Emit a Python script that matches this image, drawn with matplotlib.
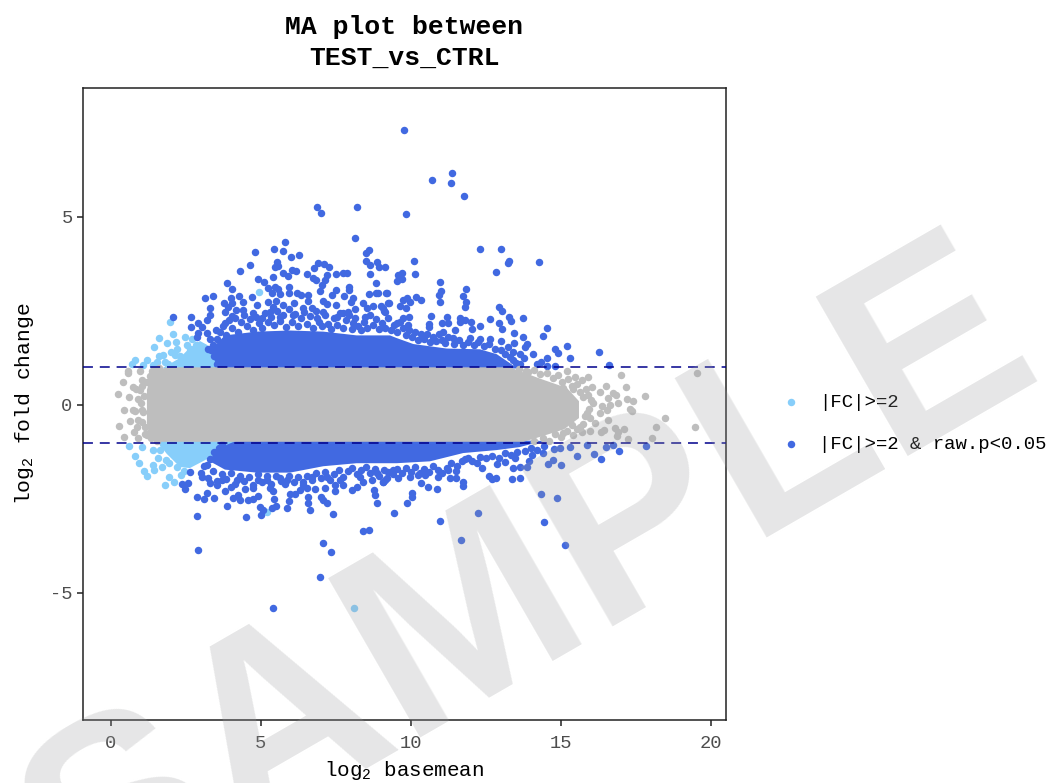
# MA plot, TEST vs CTRL. Sparse points read one by one, dense core kept as outlines
import matplotlib
matplotlib.use('Agg')
import matplotlib.pyplot as plt

MONO = 'Liberation Mono'
plt.rcParams.update({'font.family': MONO, 'mathtext.fontset': 'custom', 'axes.unicode_minus': False,
                     'mathtext.rm': 'Liberation Sans', 'mathtext.default': 'regular'})

GREY = '#BEBEBE'; LIGHT = '#87CEFA'; BLUE = '#4169E1'; NAVY = '#00008B'

# significant points, above the band
up_x = [8.13,5.81,5.42,4.81,5.74,6.01,6.26,8.61,8.49,8.50,8.63,8.86,8.93,9.13,4.64,5.52,5.47,5.58,4.30,6.89,
        6.77,7.11,7.27,6.02,6.17,5.74,5.89,6.54,7.49,7.74,7.88,7.21,8.63,4.91,6.72,6.83,7.12,5.41,3.88,5.10,
        8.82,7.04,4.04,5.93,5.24,5.47,5.58,6.97,7.94,7.94,7.50,5.36,5.63,5.94,6.19,6.32,7.38,8.59,8.82,8.91,
        9.18,4.27,3.13,3.39,4.70,6.58,7.78,4.01,8.08,4.02,3.77,4.40,5.22,5.50,6.10,6.58,7.08,7.19,7.49,7.99,
        8.39,9.24,4.87,3.30,3.89,4.17,4.41,5.39,5.74,6.41,6.69,8.14,8.74,8.52,9.00,9.10,3.80,4.74,5.30,7.08,
        7.74,7.91,2.08,2.68,3.30,3.19,4.02,5.02,5.63,6.08,6.86,7.54,8.47,3.79,2.91,2.67,3.02,3.50,3.19,2.91,
        2.86,8.08,12.31,12.99,13.28,13.23,14.28,10.11,9.69,9.58,10.13,12.82,9.52,9.69,10.96,11.84,11.00,10.94,9.19,11.72,
        10.17,10.35,9.88,9.72,9.97,10.97,11.83,9.28,9.63,9.82,11.80,12.92,13.05,9.06,9.13,10.67,9.94,9.75,11.21,11.65,
        13.28,13.74,12.62,13.33,9.52,10.61,11.05,11.22,11.63,11.80,11.99,12.94,12.30,12.05,9.91,13.02,14.55,11.47,10.61,11.08,
        13.45,14.39,13.73,12.63,12.30,11.97,11.39,12.99,13.43,13.86,13.80,15.20,14.80,14.89,16.28,14.07,13.65,13.24,13.41,13.78,
        14.53,15.31,13.41,14.19,14.32,14.52,14.80,16.59,13.63,9.77,10.70,11.37,11.33,11.77,9.83,6.87,7.00,8.20,
        # clumps on top of the solid part
        3.55,3.65,3.75,3.85,3.95,3.40,3.30,3.25,4.05,4.15,4.25,4.35,4.45,4.55,4.65,4.75,4.85,4.95,
        5.05,5.15,5.25,5.35,5.45,5.55,5.65,5.75,5.85,5.95,6.05,6.15,6.25,6.35,6.45,6.55,6.65,6.75,6.85,6.95,
        7.05,7.15,7.25,7.35,7.45,7.55,7.65,7.75,7.85,7.95,8.05,8.15,8.25,8.35,8.45,8.55,8.65,8.75,8.85,8.95,
        9.05,9.15,9.25,9.35,9.45,9.55,9.65,9.75,9.85,9.95,10.05,10.15,10.25,10.35,10.45,10.55,10.65,10.75,10.85,10.95,
        11.05,11.15,11.25,11.45,11.60,11.75,11.90,12.10,12.25,12.45,12.60,12.80,13.00,13.15,13.30,13.50,
        3.32,3.45,3.55,3.47,3.70]
up_y = [4.43,4.34,4.16,4.08,4.09,3.94,3.98,4.12,4.03,3.84,3.72,3.79,3.66,3.68,3.73,3.79,3.68,3.70,3.55,3.77,
        3.63,3.75,3.68,3.59,3.57,3.50,3.43,3.47,3.48,3.50,3.50,3.46,3.48,3.36,3.37,3.31,3.32,3.39,3.25,3.28,
        3.24,3.19,3.09,3.15,3.10,3.15,3.08,3.04,3.13,3.06,3.06,2.99,2.95,2.97,2.99,2.93,2.93,2.95,2.99,2.97,
        2.97,2.91,2.85,2.91,2.86,2.92,2.90,2.84,2.84,2.72,2.72,2.73,2.75,2.77,2.70,2.77,2.77,2.69,2.66,2.75,
        2.72,2.70,2.67,2.59,2.60,2.53,2.53,2.60,2.66,2.59,2.57,2.56,2.63,2.57,2.62,2.50,2.48,2.44,2.48,2.46,
        2.44,2.46,2.34,2.33,2.38,2.26,2.37,2.30,2.35,2.39,2.30,2.33,2.33,2.17,2.17,2.06,2.08,1.99,1.92,1.91,
        1.82,2.19,4.15,4.14,3.83,3.77,3.79,3.84,3.52,3.46,3.49,3.53,3.30,3.34,3.26,3.08,3.02,2.93,2.98,2.89,
        2.88,2.80,2.85,2.79,2.75,2.75,2.75,2.70,2.62,2.59,2.60,2.61,2.50,2.57,2.48,2.37,2.35,2.30,2.35,2.30,
        2.33,2.32,2.28,2.23,2.19,2.15,2.17,2.17,2.21,2.26,2.21,2.19,2.10,2.03,2.13,2.02,2.05,1.99,2.07,1.95,
        1.92,1.83,1.82,1.76,1.76,1.77,1.77,1.69,1.66,1.62,1.53,1.57,1.49,1.38,1.42,1.36,1.36,1.53,1.42,1.24,
        1.24,1.24,1.20,1.10,1.13,1.04,1.04,1.05,1.10,7.31,5.98,6.17,5.90,5.56,5.08,5.27,5.11,5.27,
        1.75,1.95,2.10,1.85,2.25,1.60,1.75,1.50,2.05,2.30,1.95,2.20,2.40,2.10,2.28,1.98,2.35,2.18,
        2.05,2.45,2.20,2.35,2.12,2.50,2.22,2.40,2.08,2.55,2.20,2.42,2.10,2.30,2.48,2.15,2.36,2.05,2.50,2.20,
        2.10,2.38,2.15,2.02,2.30,2.12,2.45,2.05,2.25,2.40,2.02,2.30,2.10,1.98,2.20,2.05,2.38,2.12,2.28,2.02,
        2.18,2.05,2.30,1.98,2.12,1.95,2.20,2.05,1.85,2.00,1.82,1.95,1.72,1.88,1.75,1.90,1.68,1.82,1.70,1.88,
        1.72,1.65,1.80,1.62,1.72,1.60,1.68,1.60,1.68,1.58,1.62,1.50,1.45,1.35,1.28,1.12,
        1.45,1.30,1.10,1.55,1.20]

# significant points, below the band
down_x = [2.86,4.50,4.99,7.39,6.63,8.39,8.60,3.88,2.88,3.11,3.44,3.19,4.08,4.22,4.30,4.58,4.74,4.91,4.97,5.08,
          5.36,5.50,5.43,5.88,5.93,5.97,6.14,6.56,6.57,7.00,7.21,7.08,8.86,8.80,8.77,6.80,7.47,7.47,8.04,7.74,
          8.19,8.41,8.69,9.08,9.19,2.36,2.58,2.47,4.00,3.80,4.47,4.74,5.30,5.39,5.67,6.30,6.52,7.13,2.63,3.02,
          3.30,3.52,3.69,4.19,4.91,5.19,5.86,6.41,6.69,7.19,7.63,8.30,8.86,9.44,9.86,10.02,10.02,10.32,10.56,10.87,
          10.96,12.24,11.67,11.74,11.74,11.50,11.30,10.91,9.58,9.97,9.13,9.08,14.32,14.86,14.44,12.61,12.83,12.69,13.38,13.63,
          13.41,13.63,13.86,12.36,12.21,12.86,13.13,13.47,13.94,14.02,14.56,14.72,15.01,15.52,16.11,16.32,16.93,16.50,16.74,17.83,
          15.86,15.30,14.97,14.77,14.39,10.47,10.25,9.41,11.25,11.50,11.80,2.90,7.07,7.33,6.97,5.40,15.13,
          # clumps under the solid part
          3.00,3.10,3.25,3.40,3.55,3.70,3.85,4.00,4.15,4.30,4.45,4.60,4.75,4.90,5.05,5.20,5.35,5.50,5.65,5.80,
          5.95,6.10,6.25,6.40,6.55,6.70,6.85,7.00,7.15,7.30,7.45,7.60,7.75,7.90,8.05,8.20,8.35,8.50,8.65,8.80,
          8.95,9.10,9.25,9.40,9.55,9.70,9.85,10.00,10.15,10.30,10.45,10.60,10.75,10.90,11.05,11.20,11.35,11.55,11.70,11.90,
          12.05,12.30,12.50,12.70,12.95,13.15,13.35,13.55,13.80,14.00,14.20,14.45,
          3.30,3.45,3.60,3.70,3.20]
down_y = [-2.95,-2.97,-2.94,-2.91,-2.80,-3.36,-3.33,-2.69,-2.46,-2.49,-2.48,-2.33,-2.48,-2.39,-2.54,-2.54,-2.51,-2.42,-2.72,-2.79,
          -2.74,-2.69,-2.51,-2.75,-2.55,-2.37,-2.38,-2.61,-2.44,-2.46,-2.62,-2.54,-2.61,-2.39,-2.26,-2.23,-2.28,-2.13,-2.26,-2.13,
          -2.17,-2.04,-1.99,-2.04,-1.95,-2.10,-2.08,-2.24,-2.19,-2.30,-2.24,-2.22,-2.22,-2.30,-2.01,-2.26,-2.22,-2.22,-1.79,-1.91,
          -2.08,-2.13,-1.99,-1.99,-1.99,-1.99,-1.99,-2.04,-1.91,-1.91,-1.99,-1.91,-1.82,-2.87,-2.62,-2.33,-2.46,-2.08,-2.18,-2.23,
          -3.08,-2.88,-3.59,-2.04,-2.15,-1.95,-1.95,-1.92,-1.93,-1.92,-1.99,-2.04,-2.36,-2.48,-3.12,-1.89,-1.95,-1.98,-1.97,-1.95,
          -1.69,-1.64,-1.64,-1.69,-1.55,-1.57,-1.52,-1.42,-1.48,-1.33,-1.57,-1.46,-1.59,-1.37,-1.30,-1.44,-1.23,-1.11,-1.06,-1.10,
          -1.06,-1.13,-1.14,-1.18,-1.27,-1.87,-1.86,-1.73,-1.73,-1.77,-1.45,-3.86,-3.67,-3.91,-4.57,-5.40,-3.72,
          -1.80,-1.62,-1.95,-1.75,-2.02,-1.85,-1.98,-1.80,-2.10,-1.88,-2.02,-1.92,-2.12,-1.85,-2.05,-1.90,-2.10,-1.88,-1.95,-2.10,
          -1.90,-2.05,-1.92,-2.12,-1.88,-2.00,-1.80,-1.95,-1.78,-2.00,-1.85,-1.72,-1.92,-1.75,-1.68,-1.85,-1.72,-1.65,-1.80,-1.70,
          -1.88,-1.72,-1.78,-1.85,-1.70,-1.82,-1.68,-1.78,-1.65,-1.80,-1.70,-1.78,-1.62,-1.72,-1.80,-1.68,-1.55,-1.62,-1.50,-1.42,
          -1.50,-1.38,-1.42,-1.35,-1.40,-1.28,-1.32,-1.25,-1.22,-1.15,-1.20,-1.08,
          -1.45,-1.25,-1.15,-1.05,-1.60]

# fold change only
light_x = [1.97,4.94,2.07,1.60,1.44,1.87,2.17,2.47,1.61,1.74,0.80,0.69,1.19,1.08,1.39,2.13,2.52,2.63,2.30,1.80,
           0.61,0.80,0.94,1.10,1.19,1.39,1.44,1.69,1.92,1.80,2.10,2.32,1.02,1.41,1.56,1.83,2.21,2.43,5.19,7.39,8.10,
           1.55,1.90,2.00,2.20,2.40,2.75,2.85,2.70,3.00,3.40,1.65,1.95,2.05,2.50,1.75]
light_y = [2.21,3.00,1.88,1.77,1.53,1.64,1.68,1.80,1.29,1.33,1.20,1.09,1.20,1.06,1.06,1.33,1.60,1.50,1.29,1.15,
           -1.10,-1.37,-1.55,-1.75,-1.89,-1.60,-1.73,-1.64,-1.91,-2.14,-2.04,-1.86,-1.13,-1.20,-1.40,-1.46,-1.64,-1.75,-2.84,-1.31,-5.40,
           1.15,1.10,1.40,1.50,1.15,1.35,1.60,1.75,1.55,1.20,-1.20,-1.55,-1.25,-1.55,-1.05]

# not significant, the ones outside the solid band
grey_x = [0.58,0.41,0.74,0.24,0.61,0.91,0.43,0.74,1.02,0.27,0.63,0.91,0.43,0.78,1.13,0.91,1.30,1.02,0.97,0.58,0.97,1.36,
          15.47,15.91,17.01,19.54,15.69,15.36,15.08,16.05,16.50,17.17,15.63,15.91,16.30,16.72,16.83,17.80,17.21,17.39,16.91,16.58,
          16.63,16.08,16.36,17.30,17.36,16.52,16.30,15.86,15.97,16.58,18.47,16.14,15.63,15.97,15.69,16.32,16.43,16.80,17.11,18.17,
          19.47,16.91,16.88,17.24,18.05,15.08,15.36,13.82,15.19,
          1.05,1.10,1.00,1.08,1.02,1.15,1.20,1.30,1.45,1.60,1.20,1.35,1.55,0.85,0.80,0.88,
          13.60,13.90,14.10,14.30,14.55,14.75,14.90,15.05,15.25,15.40,15.55,15.75,15.85,16.00,15.95,15.80,15.75,15.55,15.40,15.20,
          15.00,14.80,14.60,14.40,14.10]
grey_y = [0.84,0.62,0.49,0.29,0.20,0.15,-0.13,-0.13,-0.13,-0.55,-0.44,-0.40,-0.84,-0.71,-0.77,-0.89,-0.71,0.66,0.40,0.89,0.89,0.89,
          0.75,0.75,0.79,0.86,0.66,0.51,0.44,0.47,0.51,0.47,0.35,0.27,0.35,0.31,0.27,0.24,0.15,0.11,0.06,0.18,
          0.00,0.04,-0.04,-0.12,-0.15,-0.13,-0.22,-0.22,-0.35,-0.40,-0.34,-0.49,-0.58,-0.68,-0.71,-0.72,-0.67,-0.62,-0.65,-0.58,
          -0.60,-0.71,-0.82,-0.91,-0.88,-0.75,-0.53,0.89,0.91,
          0.50,0.25,0.05,-0.20,-0.45,-0.60,0.60,0.78,0.92,0.98,-0.80,-0.88,-0.96,0.42,-0.15,-0.58,
          0.95,0.88,0.92,0.82,0.85,0.72,0.80,0.62,0.70,0.42,0.55,0.20,0.42,0.12,-0.10,-0.30,-0.52,-0.65,-0.80,-0.70,
          -0.85,-0.78,-0.95,-0.88,-0.96]

# outlines of the parts too dense to separate
core_x  = [1.20,1.30,1.50,1.86,13.30,14.30,15.20,15.60,15.60,15.10,14.30,13.75,1.50,1.30,1.20]
core_y  = [0.40,0.70,0.90,1.00,1.00,0.70,0.45,0.10,-0.35,-0.65,-0.85,-0.98,-0.98,-0.80,-0.50]
mass_up_x = [3.30,3.80,4.86,5.97,7.08,8.19,9.30,9.52,10.08,11.19,12.30,12.86,13.41,13.63,3.58]
mass_up_y = [1.45,1.85,1.95,1.98,1.95,1.85,1.85,1.78,1.62,1.50,1.48,1.35,1.05,0.97,0.97]
mass_dn_x = [3.86,3.40,3.30,3.80,4.86,5.97,7.08,8.19,9.30,9.52,10.63,11.74,12.86,13.63,14.19,14.60,14.20,4.19]
mass_dn_y = [-1.06,-1.33,-1.50,-1.72,-1.80,-1.80,-1.63,-1.55,-1.55,-1.55,-1.50,-1.28,-1.20,-1.12,-1.00,-0.98,-0.95,-0.95]
pale_up_x = [1.70,2.30,2.60,2.97,3.20,3.60,3.80]
pale_up_y = [0.97,1.25,1.50,1.70,1.60,1.30,0.97]
pale_dn_x = [1.52,1.86,2.30,2.63,3.30,4.19]
pale_dn_y = [-0.95,-1.30,-1.65,-1.68,-1.40,-0.95]

x_ticks = [0, 5, 10, 15, 20]
y_ticks = [-5, 0, 5]
cut_lines = [-1, 1]

W, H = 1053, 783
fig = plt.figure(figsize=(W/100, H/100), dpi=100, facecolor='white')
ax = fig.add_axes([83/W, (H-720)/H, 643/W, 632/H])
ax.set_facecolor('none')

SIZE = 29
ax.fill(pale_up_x, pale_up_y, color=LIGHT, lw=0, zorder=1)
ax.fill(pale_dn_x, pale_dn_y, color=LIGHT, lw=0, zorder=1)
pts_l = ax.scatter(light_x, light_y, s=SIZE, c=LIGHT, linewidths=0, zorder=2, label='|FC|>=2')
ax.fill(mass_up_x, mass_up_y, color=BLUE, lw=0, zorder=3)
ax.fill(mass_dn_x, mass_dn_y, color=BLUE, lw=0, zorder=3)
pts_b = ax.scatter(up_x + down_x, up_y + down_y, s=SIZE, c=BLUE, linewidths=0, zorder=3,
                   label='|FC|>=2 & raw.p<0.05')
ax.scatter(grey_x, grey_y, s=SIZE, c=GREY, linewidths=0, zorder=4)
ax.fill(core_x, core_y, color=GREY, lw=0, zorder=4)
for v in cut_lines:
    ax.axhline(v, color=NAVY, lw=1.1, dashes=(6.5, 4.5), zorder=5)

ax.set_xlim(-0.93, 20.5)
ax.set_ylim(-8.38, 8.43)
ax.set_xticks(x_ticks)
ax.set_yticks(y_ticks)
ax.tick_params(length=4, width=1.2, color='#333333', labelcolor='#4D4D4D', labelsize=13.5)
ax.tick_params(axis='x', pad=7)
for s in ax.spines.values():
    s.set_linewidth(1.1); s.set_color('#222222')

ax.set_xlabel(r'log$_2$ basemean', fontsize=15, labelpad=5)
ax.set_ylabel(r'log$_2$ fold change', fontsize=15.4, labelpad=10)
ax.set_title('MA plot between\nTEST_vs_CTRL', fontsize=19, fontweight='bold', pad=17, linespacing=1.33)

ax.legend(handles=[pts_l, pts_b], loc='center left', bbox_to_anchor=(785/W, 1-(423/H)),
          bbox_transform=fig.transFigure, frameon=False, fontsize=13.7, markerscale=1.0,
          labelspacing=1.3, handletextpad=1.2, borderaxespad=0, borderpad=0, handlelength=0.6)

# watermark lies over everything and mutes the points a little
fig.text(530/W, 1-(590/H), 'SAMPLE', family='Liberation Sans', fontweight='bold', fontsize=192,
         rotation=30, rotation_mode='anchor', ha='center', va='center',
         color='#9B9C9E', alpha=0.25, zorder=10)

fig.savefig('out.png', dpi=100)
plt.close()
print('saved out.png')
